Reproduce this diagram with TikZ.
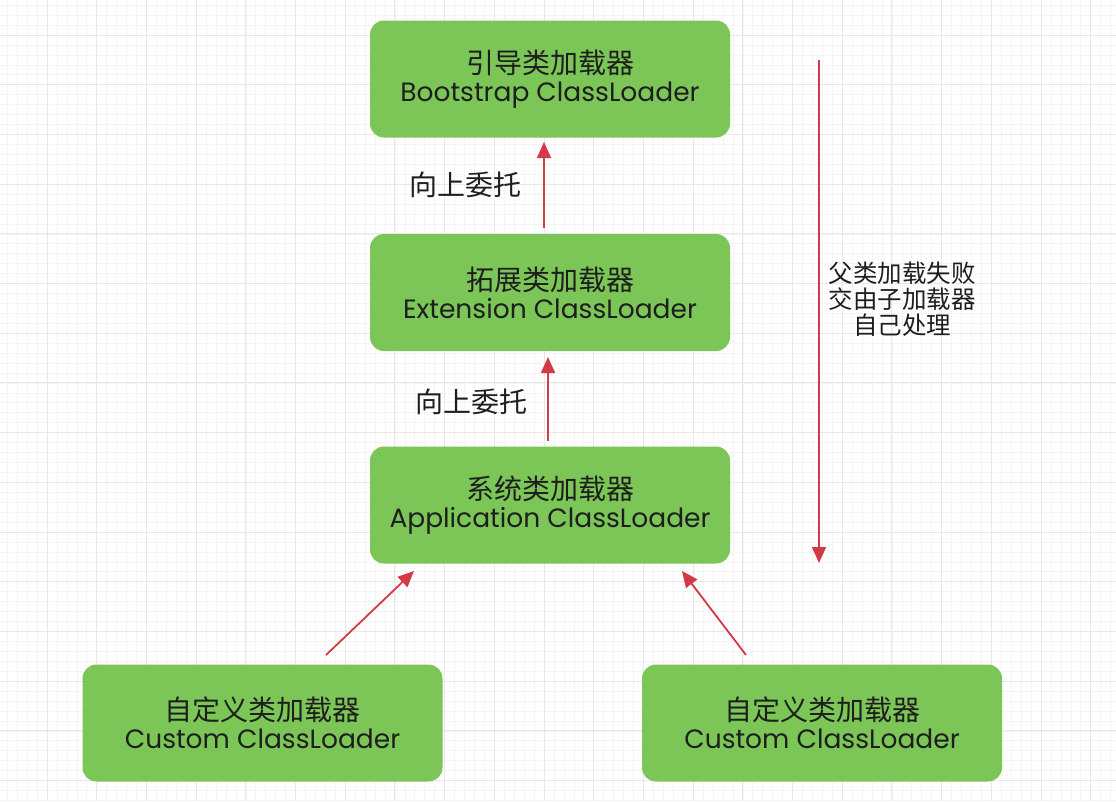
\documentclass[tikz,border=0pt]{standalone}
\usepackage{fontspec}
\setmainfont{Poppins}
\newfontfamily\cjk{Noto Sans CJK SC}
\usetikzlibrary{arrows.meta}
\definecolor{boxgreen}{HTML}{7BC657}
\definecolor{arrred}{HTML}{D23A48}
\definecolor{txt}{HTML}{1E1E1E}
\definecolor{gridminor}{HTML}{F4F4F4}
\definecolor{gridmajor}{HTML}{E8E8E8}
\tikzset{
  loader/.style={fill=boxgreen, rounded corners=14pt, minimum width=360pt, minimum height=117pt, align=center, text=txt, inner sep=0pt, font=\fontsize{26.5}{28}\selectfont},
  uparrow/.style={draw=arrred, line width=1.8pt, -{Triangle[width=14pt,length=16pt]}},
  lbl/.style={text=txt, font=\cjk\fontsize{28}{30}\selectfont, inner sep=0pt},
}
\newcommand{\twoline}[2]{{\cjk\fontsize{28}{28}\selectfont #1}\\{#2}}
\begin{document}
\begin{tikzpicture}[x=1pt,y=-1pt]
\fill[white] (0,0) rectangle (1116,801);
\useasboundingbox (0,0) rectangle (1116,801);
% grid
\foreach \i in {-4,...,112} {
  \draw[gridminor, line width=0.6pt] ({47+\i*9.94},0) -- ({47+\i*9.94},801);
}
\foreach \i in {-3,...,80} {
  \draw[gridminor, line width=0.6pt] (0,{35+\i*9.94}) -- (1116,{35+\i*9.94});
}
\foreach \i in {-1,...,22} {
  \draw[gridmajor, line width=1pt] ({47+\i*49.7},0) -- ({47+\i*49.7},801);
}
\foreach \i in {-1,...,16} {
  \draw[gridmajor, line width=1pt] (0,{35+\i*49.7}) -- (1116,{35+\i*49.7});
}
% boxes
\node[loader] (boot) at (550,79) {\twoline{引导类加载器}{Bootstrap ClassLoader}};
\node[loader] (ext) at (550,292.5) {\twoline{拓展类加载器}{Extension ClassLoader}};
\node[loader] (app) at (550,505) {\twoline{系统类加载器}{Application ClassLoader}};
\node[loader] (c1) at (262.5,723) {\twoline{自定义类加载器}{Custom ClassLoader}};
\node[loader] (c2) at (822,723) {\twoline{自定义类加载器}{Custom ClassLoader}};
% arrows
\coordinate (e1) at (544,228);
\coordinate (e2) at (544,142);
\draw[uparrow] (e1) -- (e2);
\coordinate (a1) at (548,441);
\coordinate (a2) at (548,357);
\draw[uparrow] (a1) -- (a2);
\coordinate (l1) at (326,655);
\coordinate (l2) at (414,571);
\draw[uparrow] (l1) -- (l2);
\coordinate (r1) at (746,655);
\coordinate (r2) at (682,571);
\draw[uparrow] (r1) -- (r2);
\coordinate (v1) at (819,60);
\coordinate (v2) at (819,563);
\draw[uparrow] (v1) -- (v2);
% labels
\node[lbl] (lab1) at (465,185) {向上委托};
\node[lbl] (lab2) at (471,402) {向上委托};
\node[lbl, align=center, font=\cjk\fontsize{24.5}{26}\selectfont] (fail) at (902,299) {父类加载失败\\交由子加载器\\自己处理};
\end{tikzpicture}
\end{document}
